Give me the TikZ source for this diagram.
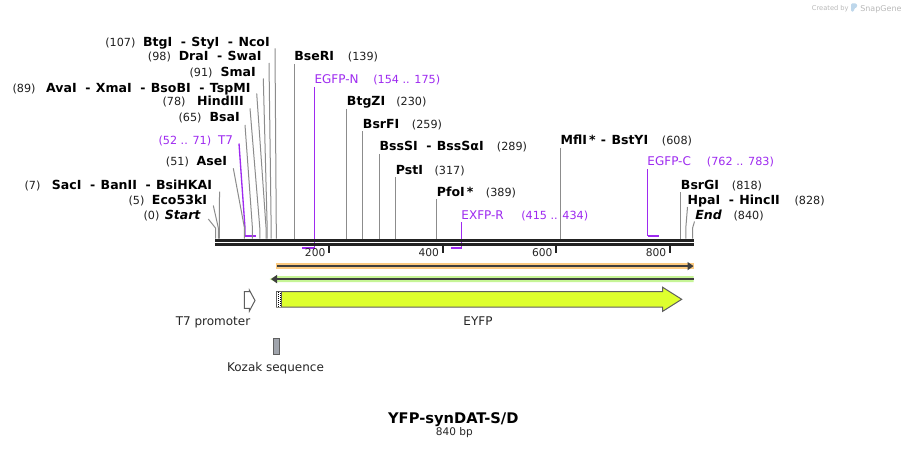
\documentclass[tikz,border=0pt]{standalone}
\usepackage{fontspec}
\setmainfont{DejaVu Sans}
\usetikzlibrary{arrows.meta,calc}
\definecolor{prim}{RGB}{158,42,240}
\definecolor{cutgray}{RGB}{140,140,140}
\definecolor{axisc}{RGB}{34,34,34}
\definecolor{orband}{RGB}{252,202,128}
\definecolor{grband}{RGB}{198,245,150}
\definecolor{arrdark}{RGB}{62,62,62}
\definecolor{eyfpc}{RGB}{222,255,46}
\definecolor{kozakc}{RGB}{160,164,172}
\definecolor{featline}{RGB}{95,95,95}
\definecolor{sgray}{RGB}{185,185,185}
\definecolor{sblue}{RGB}{190,215,235}
\newcommand\sepx{\hspace{6.5pt}-\hspace{4pt}}
% left label: id, numx, num, name end x, baseline, name, top x, top y, bp
\newcommand\LLab[9]{%
  \node[enznum, anchor=base west] (#1-n) at (#2,#5) {#3};
  \node[enzname, anchor=base east] (#1) at (#4,#5) {#6};
  \coordinate (#1-t) at (#7,#8);
  \coordinate (#1-b) at ({215.5+#9*0.568},228);
  \draw[cut] (#1-t) -- (#1-b) -- (#1-b |- ax);
}
% right label: id, name x, baseline, name, num x, num, line x
\newcommand\RLab[7]{%
  \node[enzname, anchor=base west] (#1) at (#2,#3) {#4};
  \node[enznum, anchor=base west] (#1-n) at (#5,#3) {#6};
  \coordinate (#1-t) at (#7,{#3+3});
  \draw[cut] (#1-t) -- (#1-t |- ax);
}
\begin{document}
\begin{tikzpicture}[x=0.75pt,y=-0.75pt,
  enzname/.style={font=\fontsize{9.4}{10}\selectfont\bfseries, inner sep=0pt, text=black},
  enznum/.style={font=\fontsize{8.4}{10}\selectfont, inner sep=0pt, text=black!88},
  primname/.style={font=\fontsize{9}{10}\selectfont, inner sep=0pt, text=prim},
  primnum/.style={font=\fontsize{8.4}{10}\selectfont, inner sep=0pt, text=prim},
  cut/.style={draw=cutgray, line width=0.75pt},
  primline/.style={draw=prim, line width=1pt},
  primbar/.style={draw=prim, line width=1.6pt},
  featlab/.style={font=\fontsize{9}{10}\selectfont, inner sep=0pt, text=black!85},
  ticklab/.style={font=\fontsize{8}{10}\selectfont, inner sep=0pt, text=black!85},
]
\path[fill=white] (0,0) rectangle (909,449);
\useasboundingbox (0,0) rectangle (909,449);
\coordinate (ax) at (0,238.5);

% ---- primers (drawn below the axis) ----
\node[primnum, anchor=base west] (t7-n) at (158.3,145) {(52 .. 71)};
\node[primname, anchor=base east] (t7) at (233.3,145) {T7};
\coordinate (t7-t) at (239,143.5);
\coordinate (t7-b) at (245,228);
\coordinate (t7-c) at (245,236);
\coordinate (t7-e) at (255.8,236);
\draw[primline] (t7-t) -- (t7-b) -- (t7-c);
\draw[primbar] (t7-c) -- (t7-e);

\node[primname, anchor=base west] (egn) at (314.3,84) {EGFP-N};
\node[primnum, anchor=base west] (egn-n) at (373,84) {(154 .. 175)};
\coordinate (egn-t) at (314.8,87);
\coordinate (egn-c) at (314.8,248.3);
\coordinate (egn-e) at (302,248.3);
\draw[primline] (egn-t) -- (egn-c);
\draw[primbar] (egn-c) -- (egn-e);

\node[primname, anchor=base west] (exr) at (461.2,219) {EXFP-R};
\node[primnum, anchor=base west] (exr-n) at (521,219) {(415 .. 434)};
\coordinate (exr-t) at (461.7,222);
\coordinate (exr-c) at (461.7,248.3);
\coordinate (exr-e) at (451,248.3);
\draw[primline] (exr-t) -- (exr-c);
\draw[primbar] (exr-c) -- (exr-e);

\node[primname, anchor=base west] (egc) at (647.2,166) {EGFP-C};
\node[primnum, anchor=base west] (egc-n) at (706.7,166) {(762 .. 783)};
\coordinate (egc-t) at (647.7,169);
\coordinate (egc-c) at (647.7,236);
\coordinate (egc-e) at (658.5,236);
\draw[primline] (egc-t) -- (egc-c);
\draw[primbar] (egc-c) -- (egc-e);

% ---- left enzyme labels ----
\LLab{btg}{105}{(107)}{270}{46.5}{BtgI\sepx StyI\sepx NcoI}{275}{48.5}{107}
\LLab{dra}{147.7}{(98)}{261.7}{60.7}{DraI\sepx SwaI}{269}{63}{98}
\LLab{sma}{189.3}{(91)}{256}{76.7}{SmaI}{263.3}{78.5}{91}
\LLab{ava}{12.3}{(89)}{250.7}{92.3}{AvaI\sepx XmaI\sepx BsoBI\sepx TspMI}{256.7}{93.5}{89}
\LLab{hind}{162.3}{(78)}{244}{105.7}{HindIII}{250}{108.3}{78}
\LLab{bsa}{178.3}{(65)}{240}{121.7}{BsaI}{245}{125}{65}
\LLab{ase}{165.7}{(51)}{227.3}{166}{AseI}{233.3}{168.3}{51}
\LLab{sac}{24.3}{(7)}{212.3}{189}{SacI\sepx BanII\sepx BsiHKAI}{219.5}{191.7}{7}
\LLab{eco}{128.3}{(5)}{207.3}{204}{Eco53kI}{213.3}{205.5}{5}
\LLab{start}{143.3}{(0)}{200.7}{219}{\itshape Start}{208.3}{219}{0}

% ---- right enzyme labels ----
\RLab{bse}{294}{61}{BseRI}{347.7}{(139)}{294.7}
\RLab{btgz}{346.7}{106}{BtgZI}{396}{(230)}{346.7}
\RLab{bsrf}{362.7}{128.3}{BsrFI}{411.7}{(259)}{362.7}
\RLab{bsss}{379.3}{151}{BssSI\sepx BssSαI}{496.7}{(289)}{379.5}
\RLab{pst}{395.7}{174}{PstI}{434.3}{(317)}{395.7}
\RLab{pfo}{436.7}{196}{PfoI\,*}{485.7}{(389)}{436.7}
\RLab{mfl}{560.3}{145}{MflI\,*\hspace{4pt}-\hspace{4pt}BstYI}{661.7}{(608)}{560.7}
\RLab{bsrg}{680.7}{189}{BsrGI}{731.7}{(818)}{680.7}

\node[enzname, anchor=base west] (hpa) at (687.3,204) {HpaI\sepx HincII};
\node[enznum, anchor=base west] (hpa-n) at (794.3,204) {(828)};
\coordinate (hpa-t) at (687.5,207);
\coordinate (hpa-b) at (685.8,228);
\draw[cut] (hpa-t) -- (hpa-b) -- (hpa-b |- ax);

\node[enzname, anchor=base west] (endl) at (695,219) {\itshape End};
\node[enznum, anchor=base west] (endl-n) at (733.3,219) {(840)};
\coordinate (endl-t) at (694.5,221.5);
\coordinate (endl-b) at (692.6,228);
\draw[cut] (endl-t) -- (endl-b) -- (endl-b |- ax);

% ---- sequence axis ----
\fill[axisc] (215,238.5) rectangle (693.5,241.5);
\fill[axisc] (215,243) rectangle (693.5,245.5);
\foreach \p/\nm in {200/t2,400/t4,600/t6,800/t8}{
  \pgfmathsetmacro\tx{215.5+\p*0.568}
  \fill[axisc] ({\tx-1},245) rectangle ({\tx+1},252.5);
  \node[ticklab, anchor=base east] (\nm) at ({\tx-3.5},256) {\p};
}

% ---- ORF arrows ----
\fill[orband] (276,263) rectangle (694,269.2);
\coordinate (orf1-s) at (277,266.1);
\coordinate (orf1-e) at (693.5,266.1);
\draw[arrdark, line width=1.6pt, -{Triangle[length=4.5pt,width=6pt]}] (orf1-s) -- (orf1-e);

\fill[grband] (693.5,276) -- (276,276) -- (269.5,279.1) -- (276,282.2) -- (693.5,282.2) -- cycle;
\coordinate (orf2-s) at (693.5,279.1);
\coordinate (orf2-e) at (271,279.1);
\draw[arrdark, line width=1.6pt, -{Triangle[length=4.5pt,width=6pt]}] (orf2-s) -- (orf2-e);

% ---- features ----
\draw[featline, fill=white, line width=0.75pt] (244.3,291.7) -- (249.3,291.7) -- (249.3,290) -- (255,300.5) -- (249.3,311.2) -- (249.3,308.3) -- (244.3,308.3) -- cycle;
\node[featlab, anchor=base] (t7p) at (213,325) {T7 promoter};

\draw[featline, fill=eyfpc, line width=0.75pt] (276.7,291.7) -- (662.7,291.7) -- (662.7,287.3) -- (681.7,299.3) -- (662.7,311.3) -- (662.7,307) -- (276.7,307) -- cycle;
\fill[white] (277.1,292.1) rectangle (281,306.6);
\draw[black, line width=0.75pt, dash pattern=on 0.75pt off 0.75pt] (278.2,292.3) -- (278.2,306.6);
\draw[black, line width=0.75pt, dash pattern=on 0.75pt off 0.75pt, dash phase=0.75pt] (280,292.3) -- (280,306.6);
\draw[featline, line width=0.75pt] (281,291.7) -- (281,307);
\node[featlab, anchor=base] (eyfp) at (478,325) {EYFP};

\draw[featline, fill=kozakc, line width=0.75pt] (273.3,338.3) rectangle (279.3,354.3);
\node[featlab, anchor=base] (kozak) at (275.5,371) {Kozak sequence};

% ---- title ----
\node[font=\fontsize{11}{12}\selectfont\bfseries, inner sep=0pt, anchor=base] (title) at (453.3,423.3) {YFP-synDAT-S/D};
\node[font=\fontsize{7.9}{10}\selectfont, inner sep=0pt, anchor=base, text=black!85] (len) at (454.3,435.7) {840 bp};

% ---- credit ----
\node[font=\fontsize{5}{6}\selectfont, inner sep=0pt, anchor=base west, text=sgray] (cred) at (811.7,11) {Created by};
\fill[sblue, rounded corners=1pt] (851,3.3) -- (856.5,3.3) -- (857.5,7) -- (854,8.5) -- (854,11.7) -- (851,11.7) -- cycle;
\node[font=\fontsize{6}{7}\selectfont, inner sep=0pt, anchor=base west, text=sgray] (sg) at (860,11.3) {SnapGene};
\end{tikzpicture}
\end{document}
